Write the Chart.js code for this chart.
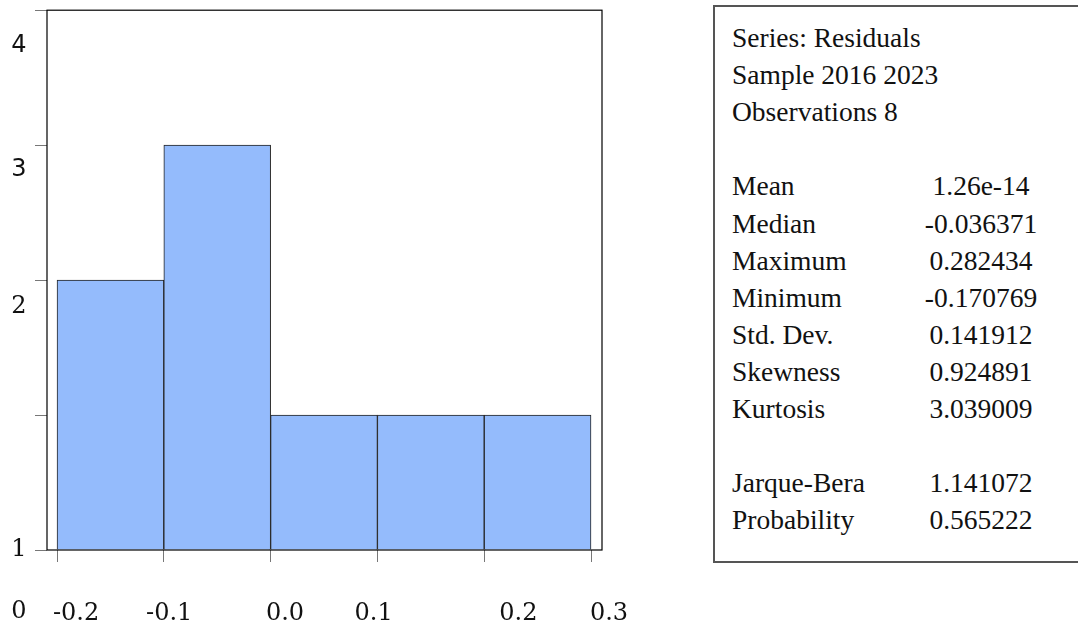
<!DOCTYPE html>
<html>
<head>
<meta charset="utf-8">
<script src="https://cdn.jsdelivr.net/npm/chart.js@4"></script>
<style>
  body { margin: 0; background: #fff; width: 1078px; height: 629px; overflow: hidden; position: relative; }
  #wrap { position: absolute; left: 0; top: 0; width: 660px; height: 629px; }
  #stats {
    position: absolute; left: 713px; top: 5px; width: 380px; height: 558px;
    border: 2px solid #555; box-sizing: border-box;
    font-family: 'Liberation Serif', 'Times New Roman', serif; font-size: 27.5px; color: #111;
  }
  .lbl { position: absolute; left: 17px; height: 30px; line-height: 30px; white-space: nowrap; }
  .val { position: absolute; left: 201px; width: 130px; text-align: center; height: 30px; line-height: 30px; white-space: nowrap; }
</style>
</head>
<body>
<div id="wrap"><canvas id="hist" width="660" height="629"></canvas></div>
<div id="stats"></div>
<script>
// histogram of residuals
const binCenters = [-0.15, -0.05, 0.05, 0.15, 0.25];
const counts = [2, 3, 1, 1, 1];

const xTicks = [-0.2, -0.1, 0.0, 0.1, 0.2, 0.3];
const xTickLabels = ['-0.2', '-0.1', '0.0', '0.1', '0.2', '0.3'];
const xLabelAnchors = [-0.1822, -0.0950, 0.0135, 0.0965, 0.2320, 0.3169];

const yTickLabels = ['0', '1', '2', '3', '4'];
const yLabelAnchors = [-0.46, 0.0, 1.80, 2.82, 3.74];
const yLabelSans = [false, false, false, true, true];

const headerLines = ['Series: Residuals', 'Sample 2016 2023', 'Observations 8'];
const statNames = ['Mean', 'Median', 'Maximum', 'Minimum', 'Std. Dev.', 'Skewness', 'Kurtosis'];
const statValues = ['1.26e-14', '-0.036371', '0.282434', '-0.170769', '0.141912', '0.924891', '3.039009'];
const testNames = ['Jarque-Bera', 'Probability'];
const testValues = ['1.141072', '0.565222'];

// stats box
const rows = [];
headerLines.forEach(t => rows.push([t, '']));
rows.push(null);
statNames.forEach((t, i) => rows.push([t, statValues[i]]));
rows.push(null);
testNames.forEach((t, i) => rows.push([t, testValues[i]]));

const box = document.getElementById('stats');
rows.forEach((r, i) => {
    if (!r) return;
    const top = 16 + 37.1 * i;
    const a = document.createElement('div');
    a.className = 'lbl';
    a.style.top = top + 'px';
    a.textContent = r[0];
    box.appendChild(a);
    if (r[1]) {
        const b = document.createElement('div');
        b.className = 'val';
        b.style.top = top + 'px';
        b.textContent = r[1];
        box.appendChild(b);
    }
});

const framePlugin = {
    id: 'frameAndLabels',
    afterDraw(chart) {
        const ctx = chart.ctx;
        const a = chart.chartArea;
        const xs = chart.scales.x;
        const ys = chart.scales.y;
        ctx.save();
        ctx.strokeStyle = '#000';
        ctx.lineWidth = 1.2;
        ctx.strokeRect(a.left, a.top, a.right - a.left, a.bottom - a.top);

        ctx.fillStyle = '#111';
        ctx.textAlign = 'center';
        ctx.textBaseline = 'middle';
        ctx.font = '24px "DejaVu Serif", serif';
        xTickLabels.forEach((t, i) => {
            ctx.fillText(t, xs.getPixelForValue(xLabelAnchors[i]), a.bottom + 64);
        });
        yTickLabels.forEach((t, i) => {
            ctx.font = yLabelSans[i] ? '24px "DejaVu Sans", sans-serif' : '24px "DejaVu Serif", serif';
            ctx.fillText(t, 19, ys.getPixelForValue(yLabelAnchors[i]));
        });
        ctx.restore();
    }
};

new Chart(document.getElementById('hist'), {
    type: 'bar',
    data: {
        datasets: [{
            label: 'Residuals',
            data: binCenters.map((x, i) => ({ x: x, y: counts[i] })),
            backgroundColor: '#94bbfc',
            borderColor: '#222',
            borderWidth: 1,
            barPercentage: 1,
            categoryPercentage: 1
        }]
    },
    options: {
        responsive: false,
        animation: false,
        layout: { padding: { top: 8, right: 58, left: 0, bottom: 0 } },
        plugins: { legend: { display: false }, tooltip: { enabled: false } },
        scales: {
            x: {
                type: 'linear',
                min: -0.2094,
                max: 0.3103,
                offset: false,
                afterBuildTicks: s => { s.ticks = xTicks.map(v => ({ value: v })); },
                afterFit: s => { s.height = 79; },
                ticks: { color: 'rgba(0,0,0,0)' },
                grid: { offset: false, drawOnChartArea: false, drawTicks: true, tickLength: 12, color: '#777' },
                border: { display: false }
            },
            y: {
                min: 0,
                max: 4,
                ticks: { stepSize: 1, color: 'rgba(0,0,0,0)' },
                afterFit: s => { s.width = 47; },
                grid: { drawOnChartArea: false, drawTicks: true, tickLength: 12, color: '#777' },
                border: { display: false }
            }
        }
    },
    plugins: [framePlugin]
});
</script>
</body>
</html>
